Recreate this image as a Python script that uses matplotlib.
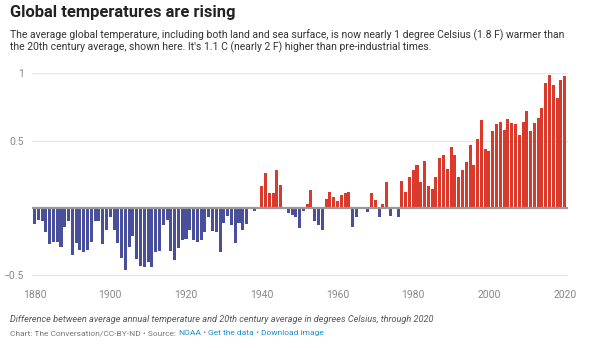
import numpy as np
import matplotlib.pyplot as plt

# Anomalias anuales (C) respecto al promedio del siglo XX, 1880-2020
years = np.arange(1880, 2021)
anomaly = [
    -0.12, -0.09, -0.10, -0.18, -0.27, -0.25, -0.25, -0.29, -0.14, -0.10,  # 1880s
    -0.35, -0.26, -0.31, -0.33, -0.31, -0.25, -0.10, -0.10, -0.27, -0.16,  # 1890s
    -0.07, -0.16, -0.26, -0.37, -0.46, -0.29, -0.21, -0.38, -0.43, -0.44,  # 1900s
    -0.40, -0.44, -0.33, -0.32, -0.13, -0.09, -0.32, -0.39, -0.30, -0.24,  # 1910s
    -0.23, -0.16, -0.24, -0.25, -0.24, -0.18, -0.07, -0.17, -0.18, -0.33,  # 1920s
    -0.11, -0.06, -0.13, -0.26, -0.11, -0.16, -0.12, -0.01, -0.02, 0.01,   # 1930s
    0.16, 0.26, 0.11, 0.11, 0.28, 0.17, -0.01, -0.04, -0.05, -0.07,        # 1940s
    -0.15, -0.02, 0.03, 0.13, -0.10, -0.13, -0.16, 0.07, 0.12, 0.08,       # 1950s
    0.05, 0.10, 0.11, 0.12, -0.14, -0.07, -0.01, 0.00, -0.03, 0.11,        # 1960s
    0.06, -0.07, 0.03, 0.19, -0.06, 0.005, -0.07, 0.20, 0.12, 0.23,        # 1970s
    0.28, 0.32, 0.19, 0.35, 0.16, 0.14, 0.23, 0.37, 0.39, 0.29,            # 1980s
    0.45, 0.39, 0.23, 0.28, 0.34, 0.47, 0.32, 0.51, 0.65, 0.44,            # 1990s
    0.42, 0.57, 0.62, 0.64, 0.58, 0.66, 0.63, 0.62, 0.54, 0.64,            # 2000s
    0.72, 0.57, 0.63, 0.67, 0.74, 0.93, 0.99, 0.91, 0.82, 0.95,            # 2010s
    0.98,                                                                   # 2020
]
anomaly = np.array(anomaly)

x_ticks = [1880, 1900, 1920, 1940, 1960, 1980, 2000, 2020]
y_ticks = [-0.5, 0.5, 1]
y_tick_labels = ['\u22120.5', '0.5', '1']

blue = '#4a4f9c'
red = '#d93a2b'

plt.rcParams['font.family'] = ['Roboto', 'DejaVu Sans']

W, H = 593, 348
fig = plt.figure(figsize=(W / 100, H / 100), dpi=100)

# ejes en coordenadas de pixel
left, right, top, bottom = 32, 568, 73.3, 278
ax = fig.add_axes([left / W, 1 - bottom / H, (right - left) / W, (bottom - top) / H])

colors = np.where(anomaly >= 0, red, blue)
ax.bar(years, anomaly, width=0.8, color=colors, linewidth=0, zorder=2)

ax.set_xlim(1879.34, 2020.87)
ax.set_ylim(-0.52, 1.0)

for v in y_ticks:
    ax.axhline(v, color='#e6e6e6', lw=1, zorder=1)
ax.axhline(0, color='#999999', lw=1.6, zorder=3)

ax.set_yticks(y_ticks)
ax.set_yticklabels(y_tick_labels)
ax.set_xticks(x_ticks)
ax.tick_params(axis='both', length=0, labelsize=7.5, colors='#888888')
ax.tick_params(axis='y', pad=6)
ax.tick_params(axis='x', pad=9)
for s in ax.spines.values():
    s.set_visible(False)
ax.set_facecolor('none')

# textos
fig.text(10 / W, 1 - 13 / H, 'Global temperatures are rising', fontsize=11.9,
         fontweight='bold', color='#222222', va='center')
fig.text(10 / W, 1 - 35 / H,
         'The average global temperature, including both land and sea surface, is now nearly 1 degree Celsius (1.8 F) warmer than',
         fontsize=7.5, color='#333333', va='center')
fig.text(10 / W, 1 - 47 / H,
         "the 20th century average, shown here. It's 1.1 C (nearly 2 F) higher than pre-industrial times.",
         fontsize=7.5, color='#333333', va='center')
fig.text(10 / W, 1 - 319 / H,
         'Difference between average annual temperature and 20th century average in degrees Celsius, through 2020',
         fontsize=6.6, style='italic', color='#555555', va='center')

# linea de fuente con enlaces en azul
parts = [('Chart: The Conversation/CC-BY-ND \u2022 Source: ', '#777777'),
         ('NOAA', '#1a8fd0'), (' \u2022 ', '#777777'),
         ('Get the data', '#1a8fd0'), (' \u2022 ', '#777777'),
         ('Download image', '#1a8fd0')]
fig.canvas.draw()
renderer = fig.canvas.get_renderer()
xpos = 10
for txt, col in parts:
    t = fig.text(xpos / W, 1 - 333 / H, txt, fontsize=6.0, color=col, va='center')
    bb = t.get_window_extent(renderer=renderer)
    xpos += bb.width

fig.savefig('out.png', dpi=100)
